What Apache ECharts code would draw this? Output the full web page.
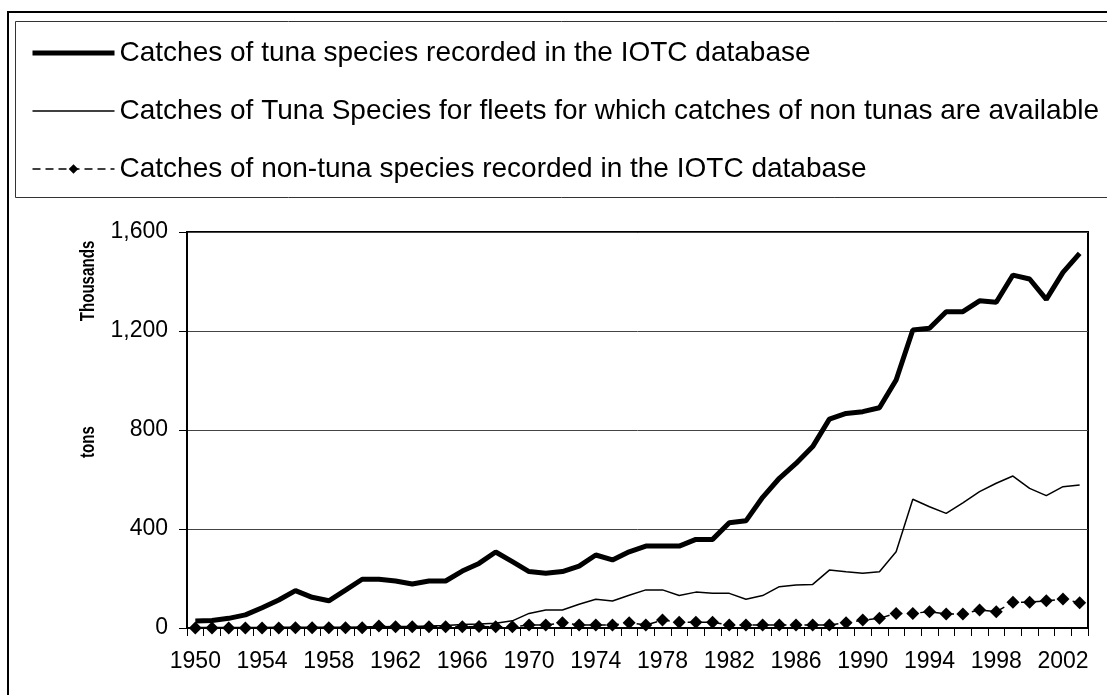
<!DOCTYPE html>
<html>
<head>
<meta charset="utf-8">
<script src="https://cdn.jsdelivr.net/npm/echarts@6/dist/echarts.min.js"></script>
<style>html,body{margin:0;padding:0;background:#fff;}#c{width:1107px;height:695px;}</style>
</head>
<body>
<div id="c"></div>
<script>
const years = [];
for (let y = 1950; y <= 2003; y++) years.push(String(y));

const tunaAll = [28, 30, 39, 53, 82, 113, 151, 124, 110, 153,
  197, 197, 190, 178, 190, 190, 230, 261, 307, 268,
  228, 221, 228, 250, 295, 275, 308, 331, 331, 331,
  358, 358, 425, 433, 528, 605, 665, 733, 844, 867,
  874, 890, 1002, 1204, 1211, 1278, 1278, 1322, 1316, 1426,
  1410, 1328, 1437, 1514];

const tunaFleets = [2, 2, 2, 2, 2, 3, 3, 3, 3, 3,
  4, 5, 6, 6, 8, 10, 14, 16, 19, 29,
  59, 73, 73, 96, 116, 109, 132, 154, 154, 131,
  145, 140, 140, 116, 131, 167, 174, 176, 234, 227,
  221, 227, 308, 520, 490, 463, 506, 551, 585, 614,
  564, 535, 571, 578];

const nonTuna = [0, 0, 0, 0, 0, 0, 1, 1, 1, 1,
  1, 8, 5, 5, 5, 5, 5, 6, 5, 5,
  12, 12, 21, 12, 12, 12, 21, 12, 32, 23,
  23, 23, 12, 12, 12, 12, 12, 12, 12, 21,
  32, 39, 59, 59, 66, 57, 57, 73, 66, 104,
  104, 110, 117, 102];

const seriesNames = [
  'Catches of tuna species recorded in the IOTC database',
  'Catches of Tuna Species for fleets for which catches of non tunas are available',
  'Catches of non-tuna species recorded in the IOTC database'
];
const yTicks = [0, 400, 800, 1200, 1600];

const FONT = '"Liberation Sans", Arial, sans-serif';
const chart = echarts.init(document.getElementById('c'), null, {renderer: 'canvas'});
chart.setOption({
  animation: false,
  backgroundColor: '#fff',
  graphic: [
    {type: 'rect', shape: {x: 8, y: 12, width: 1130, height: 720}, style: {fill: 'none', stroke: '#000', lineWidth: 2}, silent: true},
    {type: 'rect', shape: {x: 15.5, y: 21.5, width: 1120, height: 176}, style: {fill: 'none', stroke: '#333', lineWidth: 1}, silent: true},
    {type: 'text', x: 88, y: 281, rotation: Math.PI / 2, scaleX: 0.72,
      style: {text: 'Thousands', font: 'bold 21px ' + FONT, fill: '#000', align: 'center', verticalAlign: 'middle'}},
    {type: 'text', x: 88, y: 442, rotation: Math.PI / 2, scaleX: 0.72,
      style: {text: 'tons', font: 'bold 21px ' + FONT, fill: '#000', align: 'center', verticalAlign: 'middle'}}
  ],
  legend: {
    orient: 'vertical',
    left: 25,
    top: 34,
    itemWidth: 82,
    itemHeight: 12,
    itemGap: 30,
    selectedMode: false,
    textStyle: {fontFamily: FONT, fontSize: 28, color: '#000'},
    data: [
      {name: seriesNames[0], lineStyle: {width: 5, color: '#000'}, itemStyle: {opacity: 0}},
      {name: seriesNames[1], lineStyle: {width: 1.5, color: '#000'}, itemStyle: {opacity: 0}},
      {name: seriesNames[2], lineStyle: {width: 1.5, color: '#000', type: [8, 5]}, itemStyle: {color: '#000'}}
    ]
  },
  grid: {left: 187, right: 19, top: 232, bottom: 67, show: true, borderColor: '#000', borderWidth: 2, backgroundColor: 'transparent'},
  xAxis: {
    type: 'category',
    data: years,
    boundaryGap: true,
    axisLine: {lineStyle: {color: '#000', width: 2}},
    axisTick: {show: true, interval: 0, length: 8, lineStyle: {color: '#000', width: 1}},
    axisLabel: {interval: 3, fontFamily: FONT, fontSize: 23, color: '#000', margin: 22},
    splitLine: {show: false}
  },
  yAxis: {
    type: 'value',
    min: yTicks[0],
    max: yTicks[yTicks.length - 1],
    interval: 400,
    axisLine: {show: true, lineStyle: {color: '#000', width: 2}},
    axisTick: {show: true, length: 8, lineStyle: {color: '#000', width: 1}},
    axisLabel: {fontFamily: FONT, fontSize: 23, color: '#000', margin: 19,
      formatter: v => v.toLocaleString('en-US')},
    splitLine: {show: true, lineStyle: {color: '#444', width: 1}}
  },
  series: [
    {name: seriesNames[0], type: 'line', data: tunaAll, symbol: 'none', z: 3,
      lineStyle: {color: '#000', width: 5}, itemStyle: {color: '#000'}},
    {name: seriesNames[1], type: 'line', data: tunaFleets, symbol: 'none', z: 2,
      lineStyle: {color: '#000', width: 1.5}, itemStyle: {color: '#000'}},
    {name: seriesNames[2], type: 'line', data: nonTuna, symbol: 'diamond', symbolSize: 13, showAllSymbol: true, z: 4,
      lineStyle: {color: '#000', width: 1.5, type: [8, 5]}, itemStyle: {color: '#000'}}
  ]
});
</script>
</body>
</html>
